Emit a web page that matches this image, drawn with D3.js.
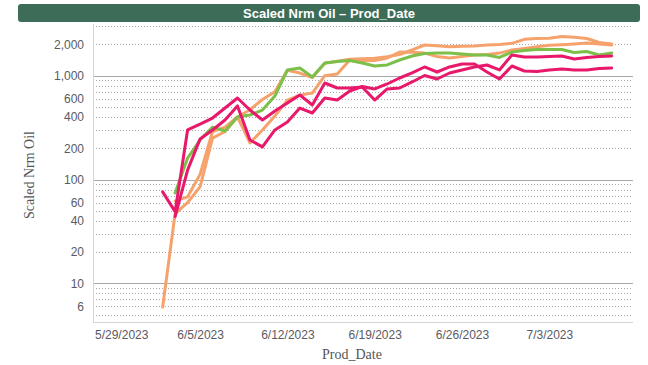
<!DOCTYPE html>
<html>
<head>
<meta charset="utf-8">
<script src="https://cdn.jsdelivr.net/npm/d3@7"></script>
<style>
  html, body { margin: 0; padding: 0; background: #fff; }
  svg { display: block; }
</style>
</head>
<body>
<svg id="chart" width="648" height="365"></svg>
<script>
// Daily production dates (6/2/2023 – 7/8/2023)
const prodDates = [
  "2023-06-02","2023-06-03","2023-06-04","2023-06-05","2023-06-06","2023-06-07","2023-06-08",
  "2023-06-09","2023-06-10","2023-06-11","2023-06-12","2023-06-13","2023-06-14","2023-06-15",
  "2023-06-16","2023-06-17","2023-06-18","2023-06-19","2023-06-20","2023-06-21","2023-06-22",
  "2023-06-23","2023-06-24","2023-06-25","2023-06-26","2023-06-27","2023-06-28","2023-06-29",
  "2023-06-30","2023-07-01","2023-07-02","2023-07-03","2023-07-04","2023-07-05","2023-07-06",
  "2023-07-07","2023-07-08"
];

// Scaled normalized oil per well
const wellOrangeA = [5.9, 47, 60, 85, 250, 290, 400, 225, 300, 410, 580, 650, 680, 1000, 1040, 1420, 1390, 1400, 1480, 1690, 1680, 1650, 1530, 1480, 1530, 1580, 1600, 1650, 1770, 1830, 1900, 1960, 1990, 2020, 2060, 2020, 1975];
const wellOrangeB = [null, 62, 68, 112, 290, 320, 400, 470, 590, 700, 1130, 1060, 960, 1320, 1380, 1440, 1460, 1470, 1525, 1600, 1770, 1975, 1940, 1900, 1920, 1930, 1975, 2000, 2050, 2240, 2280, 2290, 2380, 2350, 2280, 2090, 2020];
const wellGreen   = [null, 74, 161, 240, 320, 293, 400, 418, 467, 637, 1135, 1186, 972, 1325, 1370, 1400, 1325, 1240, 1270, 1416, 1548, 1635, 1655, 1655, 1620, 1582, 1582, 1500, 1690, 1750, 1790, 1790, 1790, 1670, 1710, 1582, 1655];
const wellPinkA   = [76, 49, 300, 342, 391, 488, 610, 467, 374, 457, 546, 652, 522, 850, 761, 761, 778, 583, 745, 761, 870, 1004, 929, 1062, 1135, 1213, 1268, 1135, 1583, 1514, 1514, 1531, 1548, 1448, 1497, 1531, 1548];
const wellPinkB   = [null, 44, 123, 246, 300, 374, 511, 240, 206, 300, 358, 488, 437, 610, 583, 712, 787, 745, 832, 950, 1062, 1213, 1085, 1213, 1296, 1296, 1085, 929, 1240, 1110, 1098, 1135, 1160, 1135, 1135, 1173, 1186];

// Axis ticks
const xTickLabels = ["5/29/2023", "6/5/2023", "6/12/2023", "6/19/2023", "6/26/2023", "7/3/2023"];
const yTickLabels = [2000, 1000, 600, 400, 200, 100, 60, 40, 20, 10, 6];
const yMajorGrid = [10, 100, 1000];

const seriesList = [
  { name: "Orange A", values: wellOrangeA, color: "#f6a26c" },
  { name: "Orange B", values: wellOrangeB, color: "#f6a26c" },
  { name: "Green",    values: wellGreen,   color: "#7cc04a" },
  { name: "Pink A",   values: wellPinkA,   color: "#e8186a" },
  { name: "Pink B",   values: wellPinkB,   color: "#e8186a" }
];

const svg = d3.select("#chart");
const parseDay = d3.timeParse("%Y-%m-%d");
const parseTick = d3.timeParse("%m/%d/%Y");

const plot = { left: 93, right: 633, top: 24, bottom: 322 };

const x = d3.scaleTime()
  .domain([new Date(2023, 4, 27, 10), new Date(2023, 6, 9, 17)])
  .range([plot.left, plot.right]);

const y = d3.scaleLog()
  .domain([4.24, 3147])
  .range([plot.bottom, plot.top]);

// Title bar
svg.append("rect")
  .attr("x", 18).attr("y", 4).attr("width", 622).attr("height", 18)
  .attr("rx", 3).attr("fill", "#3d6d58");
svg.append("text")
  .attr("x", 329).attr("y", 17.5)
  .attr("text-anchor", "middle")
  .attr("font-family", "'Liberation Sans', Arial, sans-serif")
  .attr("font-weight", "bold").attr("font-size", 13)
  .attr("fill", "#fff")
  .text("Scaled Nrm Oil \u2013 Prod_Date");

// Grid lines: minor (dotted) at every 1..9 multiple, major (solid) at decades
const minorVals = [];
[1, 10, 100, 1000].forEach(dec => {
  for (let m = 1; m <= 9; m++) {
    const v = m * dec;
    if (v >= 5 && v <= 3000 && !yMajorGrid.includes(v)) minorVals.push(v);
  }
});
const grid = svg.append("g");
grid.selectAll("line.minor").data(minorVals).join("line")
  .attr("class", "minor")
  .attr("x1", plot.left).attr("x2", plot.right)
  .attr("y1", d => Math.round(y(d)) + 0.5).attr("y2", d => Math.round(y(d)) + 0.5)
  .attr("stroke", "#a9a9a9").attr("stroke-width", 1)
  .attr("stroke-dasharray", "1,2");
grid.selectAll("line.major").data(yMajorGrid).join("line")
  .attr("class", "major")
  .attr("x1", plot.left).attr("x2", plot.right)
  .attr("y1", d => Math.round(y(d)) + 0.5).attr("y2", d => Math.round(y(d)) + 0.5)
  .attr("stroke", "#a8a8a8").attr("stroke-width", 1);

// Axis frame lines
svg.append("line")
  .attr("x1", plot.left + 0.5).attr("x2", plot.left + 0.5)
  .attr("y1", plot.top).attr("y2", plot.bottom)
  .attr("stroke", "#d4d4d4");
svg.append("line")
  .attr("x1", plot.left).attr("x2", plot.right)
  .attr("y1", plot.bottom + 0.5).attr("y2", plot.bottom + 0.5)
  .attr("stroke", "#d4d4d4");

// Y axis labels
const yAxis = d3.axisLeft(y)
  .tickValues(yTickLabels)
  .tickFormat(d3.format(","))
  .tickSize(0).tickPadding(9);
const yg = svg.append("g")
  .attr("transform", `translate(${plot.left},0)`)
  .call(yAxis);
yg.select(".domain").remove();
yg.selectAll("text")
  .attr("font-family", "'Liberation Sans', Arial, sans-serif")
  .attr("font-size", 12).attr("fill", "#5a5a62");

// X axis labels
const xAxis = d3.axisBottom(x)
  .tickValues(xTickLabels.map(s => parseTick(s)))
  .tickFormat(d => d3.timeFormat("%-m/%-d/%Y")(d))
  .tickSize(0).tickPadding(6);
const xg = svg.append("g")
  .attr("transform", `translate(0,${plot.bottom})`)
  .call(xAxis);
xg.select(".domain").remove();
xg.selectAll("text")
  .attr("font-family", "'Liberation Sans', Arial, sans-serif")
  .attr("font-size", 12).attr("fill", "#5a5a62")
  .attr("dy", "0.95em");
// keep the first label inside the plot's left edge
xg.selectAll(".tick").each(function () {
  const t = d3.select(this);
  const txt = t.select("text").node();
  const w = txt.getComputedTextLength();
  const tr = t.attr("transform");
  const cx = +tr.match(/translate\(([-\d.]+)/)[1];
  const minCx = plot.left + 2 + w / 2;
  if (cx < minCx) t.select("text").attr("x", minCx - cx);
});

// Axis titles
svg.append("text")
  .attr("transform", "translate(34,175) rotate(-90)")
  .attr("text-anchor", "middle")
  .attr("font-family", "'Liberation Serif', 'Times New Roman', serif")
  .attr("font-size", 14).attr("fill", "#555")
  .text("Scaled Nrm Oil");
svg.append("text")
  .attr("x", 352).attr("y", 359)
  .attr("text-anchor", "middle")
  .attr("font-family", "'Liberation Serif', 'Times New Roman', serif")
  .attr("font-size", 14).attr("fill", "#555")
  .text("Prod_Date");

// Series lines
const line = d3.line()
  .defined(d => d.v != null)
  .x(d => x(d.date))
  .y(d => y(d.v));

const lines = svg.append("g").attr("fill", "none")
  .attr("stroke-width", 3).attr("stroke-linejoin", "round").attr("stroke-linecap", "round");
seriesList.forEach(s => {
  const pts = prodDates.map((ds, i) => ({ date: parseDay(ds), v: s.values[i] }));
  lines.append("path")
    .datum(pts)
    .attr("stroke", s.color)
    .attr("d", line);
});
</script>
</body>
</html>
